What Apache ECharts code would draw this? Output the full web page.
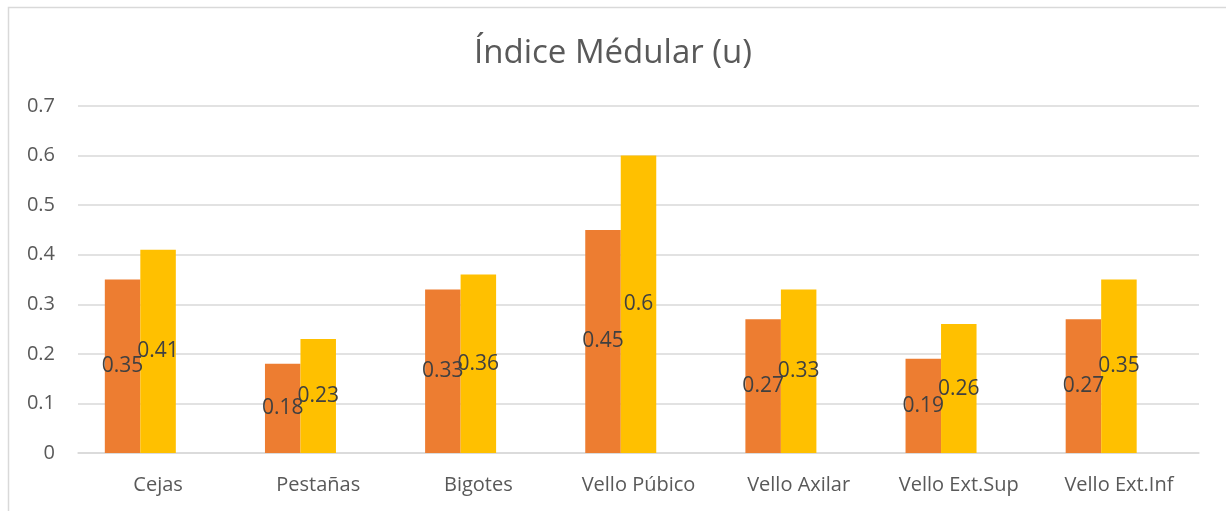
<!DOCTYPE html>
<html>
<head>
    <meta charset="utf-8">
    <title>Índice Médular (u)</title>
    <style>
        html, body { margin: 0; padding: 0; background: #fff; }
        #container { width: 1226px; height: 511px; }
    </style>
</head>
<body>
<div id="container"></div>
<script src="https://cdn.jsdelivr.net/npm/echarts@6/dist/echarts.min.js"></script>
<script type="text/javascript">
    // categorias y valores
    var categorias = ['Cejas', 'Pestañas', 'Bigotes', 'Vello Púbico', 'Vello Axilar', 'Vello Ext.Sup', 'Vello Ext.Inf'];
    var serieNaranja = [0.35, 0.18, 0.33, 0.45, 0.27, 0.19, 0.27];
    var serieAmarilla = [0.41, 0.23, 0.36, 0.6, 0.33, 0.26, 0.35];
    var serieVacia = [null, null, null, null, null, null, null]; // tercera serie sin datos (ocupa espacio)
    var ticksY = [0, 0.1, 0.2, 0.3, 0.4, 0.5, 0.6, 0.7];

    var fuente = '"Open Sans", "Noto Sans", sans-serif';

    var dom = document.getElementById('container');
    var myChart = echarts.init(dom, null, {renderer: 'canvas'});

    var etiqueta = {
        show: true,
        position: 'inside',
        color: '#404040',
        fontSize: 21,
        fontFamily: fuente
    };

    var option = {
        backgroundColor: '#fff',
        animation: false,
        title: {
            text: 'Índice Médular (u)',
            left: 'center',
            top: 32,
            textStyle: {
                color: '#595959',
                fontSize: 33,
                fontWeight: 'normal',
                fontFamily: fuente
            }
        },
        graphic: [{
            type: 'rect',
            shape: {x: 8.5, y: 7.5, width: 1400, height: 700},
            style: {fill: 'none', stroke: '#d9d9d9', lineWidth: 1.5},
            silent: true
        }],
        grid: {
            left: 78,
            right: 27,
            top: 106,
            bottom: 58
        },
        xAxis: {
            type: 'category',
            data: categorias,
            axisTick: {show: false},
            axisLine: {lineStyle: {color: '#d9d9d9', width: 1.5}},
            axisLabel: {
                color: '#595959',
                fontSize: 20,
                fontFamily: fuente,
                margin: 22
            }
        },
        yAxis: {
            type: 'value',
            min: ticksY[0],
            max: ticksY[ticksY.length - 1],
            interval: 0.1,
            axisLine: {show: false},
            axisTick: {show: false},
            splitLine: {lineStyle: {color: '#d9d9d9', width: 1.5}},
            axisLabel: {
                color: '#595959',
                fontSize: 20,
                fontFamily: fuente,
                margin: 23,
                formatter: function (v) {
                    return String(Math.round(v * 10) / 10);
                }
            }
        },
        series: [
            {
                name: 'Serie 1',
                type: 'bar',
                data: serieNaranja,
                barWidth: 35.5,
                barGap: '0%',
                itemStyle: {color: '#ED7D31'},
                label: etiqueta
            },
            {
                name: 'Serie 2',
                type: 'bar',
                data: serieAmarilla,
                barWidth: 35.5,
                barGap: '0%',
                itemStyle: {color: '#FFC000'},
                label: etiqueta
            },
            {
                name: 'Serie 3',
                type: 'bar',
                data: serieVacia,
                barWidth: 35.5,
                barGap: '0%',
                itemStyle: {color: '#A5A5A5'}
            }
        ]
    };

    if (option && typeof option === "object") {
        myChart.setOption(option, true);
    }
</script>
</body>
</html>
